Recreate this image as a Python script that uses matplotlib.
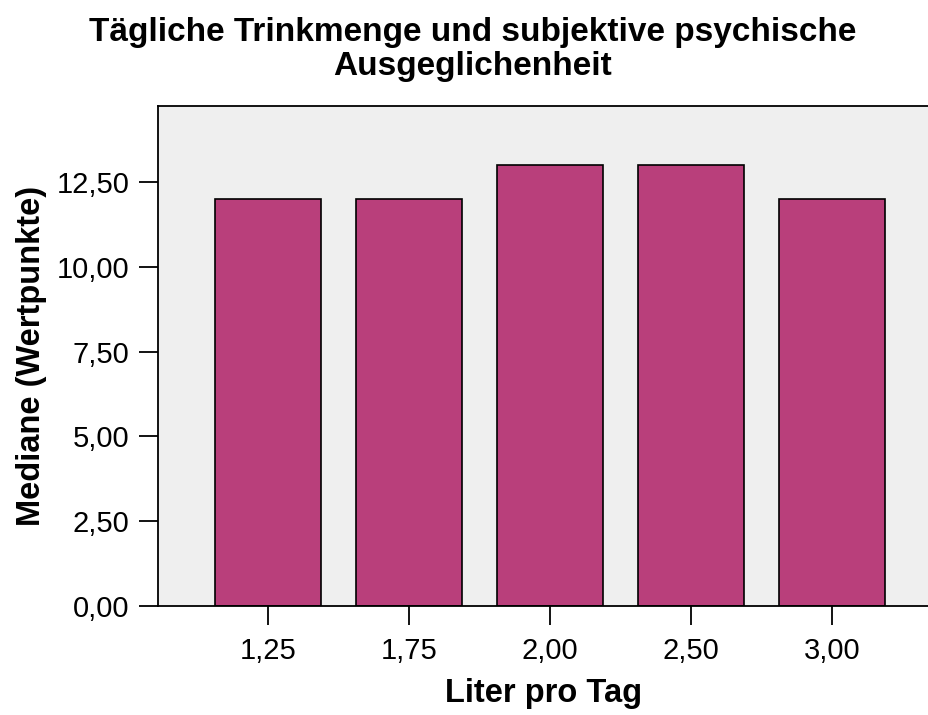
import matplotlib
matplotlib.use("Agg")
import matplotlib.pyplot as plt
import numpy as np

plt.rcParams['font.family'] = ['Liberation Sans', 'DejaVu Sans']

categories = ['1,25', '1,75', '2,00', '2,50', '3,00']
medians = [12, 12, 13, 13, 12]
yticks = [0, 2.5, 5, 7.5, 10, 12.5]
ytick_labels = ['0,00', '2,50', '5,00', '7,50', '10,00', '12,50']

fig = plt.figure(figsize=(9.29, 7.15), dpi=100)
ax = fig.add_axes([0.170, 0.1524, 0.830, 0.700])
ax.set_facecolor('#efefef')

x = np.arange(len(categories))
ax.bar(x, medians, width=0.75, color='#b93f7b', edgecolor='black', linewidth=1.2)

ax.set_xlim(-0.78, 4.69)
ax.set_ylim(0, 14.75)
ax.set_xticks(x)
ax.set_xticklabels(categories)
ax.set_yticks(yticks)
ax.set_yticklabels(ytick_labels)
ax.tick_params(direction='out', length=13.5, width=1.3, labelsize=21)
ax.tick_params(axis='y', pad=7)
ax.tick_params(axis='x', pad=9)

for s in ['left', 'bottom', 'top']:
    ax.spines[s].set_linewidth(1.3)
ax.spines['right'].set_visible(False)

ax.set_xlabel('Liter pro Tag', fontsize=23.5, fontweight='bold', labelpad=9)
ax.set_ylabel('Mediane (Wertpunkte)', fontsize=23.5, fontweight='bold', labelpad=7)
fig.text(0.509, 0.976, 'Tägliche Trinkmenge und subjektive psychische\nAusgeglichenheit',
         fontsize=24, fontweight='bold', ha='center', va='top', linespacing=1.1)

fig.savefig('out.png', dpi=100)
